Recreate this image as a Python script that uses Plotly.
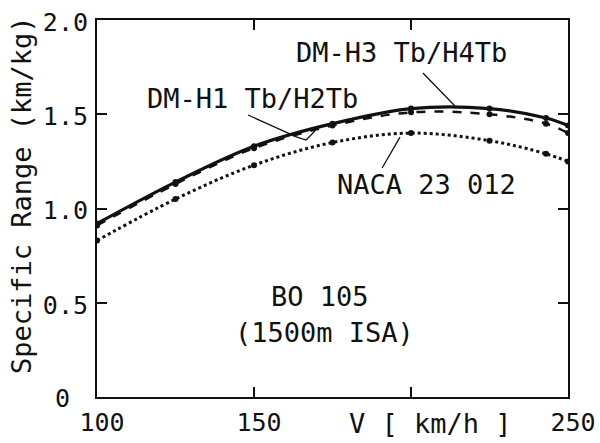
import plotly.graph_objects as go

# Data
speed = [100, 125, 150, 175, 200, 225, 243, 250]
dm_h1 = [0.92, 1.14, 1.33, 1.45, 1.53, 1.53, 1.48, 1.44]   # solid
dm_h3 = [0.91, 1.13, 1.32, 1.44, 1.51, 1.50, 1.45, 1.40]   # dashed
naca = [0.83, 1.05, 1.23, 1.35, 1.40, 1.36, 1.29, 1.25]    # dotted

x_ticks = [100, 150, 200, 250]
x_tick_text = ["100", "150", "", "250"]
y_ticks = [0, 0.5, 1.0, 1.5, 2.0]
y_tick_text = ["", "0.5", "1.0", "1.5", "2.0"]

FONT = "DejaVu Sans Mono"
BLACK = "#111111"

fig = go.Figure()
fig.add_trace(go.Scatter(x=speed, y=naca, mode="lines+markers",
                         line=dict(color=BLACK, width=3, dash="dot", shape="spline"),
                         marker=dict(size=6, color=BLACK), showlegend=False))
fig.add_trace(go.Scatter(x=speed, y=dm_h3, mode="lines+markers",
                         line=dict(color=BLACK, width=2.5, dash="dash", shape="spline"),
                         marker=dict(size=6, color=BLACK), showlegend=False))
fig.add_trace(go.Scatter(x=speed, y=dm_h1, mode="lines+markers",
                         line=dict(color=BLACK, width=3.2, shape="spline"),
                         marker=dict(size=6, color=BLACK), showlegend=False))

# leader lines
def leader(xs, ys):
    fig.add_trace(go.Scatter(x=xs, y=ys, mode="lines",
                             line=dict(color=BLACK, width=1.3),
                             showlegend=False, hoverinfo="skip"))

leader([203.8, 214.0], [1.719, 1.544])
leader([148.1, 163.7, 166.6, 169.4], [1.496, 1.379, 1.363, 1.411])
leader([190.8, 196.5], [1.215, 1.379])

ann_font = dict(family=FONT, size=27, color=BLACK)
C = dict(xanchor="center", yanchor="middle", showarrow=False)
annotations = [
    dict(x=197.1, y=1.83, text="DM-H3 Tb/H4Tb", font=ann_font, **C),
    dict(x=149.4, y=1.586, text="DM-H1 Tb/H2Tb", font=ann_font, **C),
    dict(x=204.8, y=1.125, text="NACA 23 012", font=ann_font, **C),
    dict(x=171.0, y=0.531, text="BO 105", font=ann_font, **C),
    dict(x=172.3, y=0.34, text="(1500m ISA)", font=ann_font, **C),
    dict(x=0.709, y=-0.069, xref="paper", yref="paper", text="V [ km/h ]",
         font=dict(family=FONT, size=27, color=BLACK), **C),
    dict(x=-0.159, y=0.536, xref="paper", yref="paper", text="Specific Range (km/kg)",
         textangle=-90, font=dict(family=FONT, size=27, color=BLACK), **C),
    dict(x=-0.0743, y=-0.003, xref="paper", yref="paper", text="0",
         font=dict(family=FONT, size=25, color=BLACK), **C),
]

fig.update_layout(
    width=600, height=443,
    margin=dict(l=97, r=32, t=20, b=46, autoexpand=False),
    paper_bgcolor="white", plot_bgcolor="white",
    annotations=annotations,
    font=dict(family=FONT, size=25, color=BLACK),
)
fig.update_xaxes(range=[100, 250], tickvals=x_ticks, ticktext=x_tick_text,
                 ticks="inside", ticklen=10, tickwidth=1.8, tickcolor=BLACK,
                 showline=True, linecolor=BLACK, linewidth=2, mirror="ticks",
                 showgrid=False, zeroline=False, tickfont=dict(size=25),
                 ticklabelstandoff=2, ticklabelshift=5, automargin=False)
fig.update_yaxes(range=[0, 2.0], tickvals=y_ticks, ticktext=y_tick_text,
                 ticks="inside", ticklen=10, tickwidth=1.8, tickcolor=BLACK,
                 showline=True, linecolor=BLACK, linewidth=2, mirror="ticks",
                 showgrid=False, zeroline=False, tickfont=dict(size=25),
                 ticklabelstandoff=2, ticklabelshift=2, automargin=False)

fig.write_html("out.html")
